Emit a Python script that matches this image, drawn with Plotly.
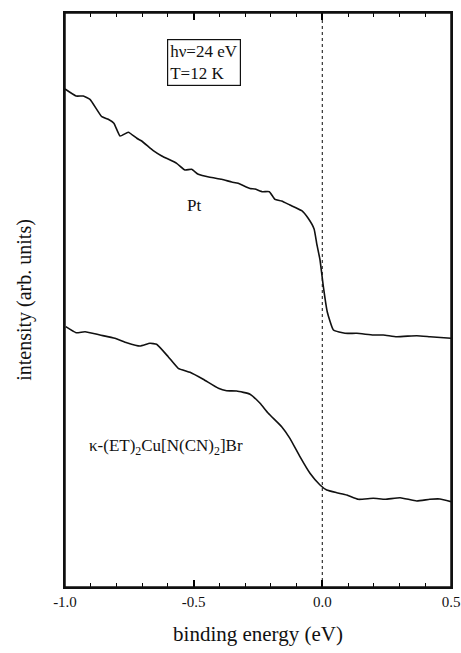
import plotly.graph_objects as go

# Pt spectrum (binding energy eV, intensity arb. units)
pt_energy = [-1.000, -0.957, -0.929, -0.903, -0.857, -0.832, -0.810, -0.786, -0.754, -0.721,
             -0.702, -0.657, -0.624, -0.566, -0.534, -0.508, -0.482, -0.437, -0.391, -0.352,
             -0.327, -0.281, -0.262, -0.232, -0.206, -0.184, -0.158, -0.126, -0.080, -0.055,
             -0.032, -0.022, -0.009, 0.004, 0.019, 0.043, 0.088, 0.134, 0.198, 0.237,
             0.289, 0.367, 0.418, 0.500]
pt_intensity = [498, 491, 491, 487.7, 470.3, 467.7, 463.7, 451, 454.7, 448.7,
                446, 436.3, 431, 423.7, 417, 417.7, 412.7, 409.7, 407.7, 405,
                403.7, 398.5, 398, 395.3, 395.3, 387.7, 386, 382, 376.3, 368.7,
                358, 343.7, 327, 300.3, 275.3, 257, 253.7, 253.7, 252, 252,
                250.3, 251.3, 250.3, 248.7]

# kappa-(ET)2Cu[N(CN)2]Br spectrum
k_energy = [-0.997, -0.957, -0.922, -0.864, -0.806, -0.760, -0.709, -0.670, -0.644, -0.599,
            -0.560, -0.514, -0.463, -0.404, -0.372, -0.333, -0.281, -0.242, -0.210, -0.158,
            -0.126, -0.087, -0.048, -0.009, 0.017, 0.056, 0.095, 0.140, 0.198, 0.244,
            0.302, 0.367, 0.418, 0.457, 0.500]
k_intensity = [260.3, 254.3, 255.3, 252, 248.7, 244.3, 241, 243.7, 242.7, 230.3,
               218.7, 214.7, 207.7, 198.7, 196.3, 196, 192.8, 183.7, 173.7, 160.3,
               148.7, 130.3, 113.7, 102, 97, 94.3, 92, 87.7, 88.7, 87.7,
               89.3, 86, 87.7, 88, 85.3]

tick_vals = [-1.0, -0.5, 0.0, 0.5]
tick_text = ["-1.0", "-0.5", "0.0", "0.5"]
minor_vals = [-0.9, -0.8, -0.7, -0.6, -0.4, -0.3, -0.2, -0.1, 0.1, 0.2, 0.3, 0.4]
fermi_level = [0.0, 0.0]
y_span = [0, 574]

FONT = "Liberation Serif, Times New Roman, serif"
INK = "#000000"

fig = go.Figure()
fig.add_trace(go.Scatter(x=fermi_level, y=y_span, mode="lines",
                         line=dict(color="#333333", width=1.2, dash="dot"),
                         hoverinfo="skip", showlegend=False))
fig.add_trace(go.Scatter(x=pt_energy, y=pt_intensity, mode="lines",
                         line=dict(color="#111111", width=1.6, shape="spline", smoothing=0.4),
                         showlegend=False))
fig.add_trace(go.Scatter(x=k_energy, y=k_intensity, mode="lines",
                         line=dict(color="#111111", width=1.6, shape="spline", smoothing=0.4),
                         showlegend=False))

fig.add_annotation(x=-0.46, y=524.5, xref="x", yref="y",
                   text="hν=24 eV<br>T=12 K", showarrow=False, align="left",
                   font=dict(family=FONT, size=17, color="#111111"),
                   bordercolor="#111111", borderwidth=1.2, borderpad=2, bgcolor="white")
fig.add_annotation(x=-0.499, y=382, xref="x", yref="y", text="Pt", showarrow=False,
                   font=dict(family=FONT, size=17, color="#111111"))
fig.add_annotation(x=-0.915, y=140, xref="x", yref="y", xanchor="left",
                   text="κ-(ET)<sub>2</sub>Cu[N(CN)<sub>2</sub>]Br", showarrow=False,
                   font=dict(family=FONT, size=17, color="#111111"))

# plot frame
fig.add_shape(type="rect", xref="paper", yref="paper", x0=0, x1=1, y0=0, y1=1,
              line=dict(color="#111111", width=1.5), layer="above")

fig.update_xaxes(range=[-1.0, 0.5], tickmode="array", tickvals=tick_vals, ticktext=tick_text,
                 ticks="inside", ticklen=7, tickwidth=1.5, tickcolor=INK,
                 minor=dict(tickmode="array", tickvals=minor_vals, ticks="inside",
                            ticklen=4, tickwidth=1.2, tickcolor=INK),
                 showline=True, linecolor="#111111", linewidth=1.5, mirror="ticks",
                 showgrid=False, zeroline=False, automargin=False,
                 tickfont=dict(family=FONT, size=15, color="#111111"),
                 title=dict(text="binding energy (eV)", standoff=18,
                            font=dict(family=FONT, size=21, color="#111111")))
fig.update_yaxes(range=y_span, showticklabels=False, ticks="",
                 showline=True, linecolor="#111111", linewidth=1.5, mirror=True,
                 showgrid=False, zeroline=False, automargin=False,
                 title=dict(text="intensity (arb. units)", standoff=26,
                            font=dict(family=FONT, size=20, color="#111111")))

fig.update_layout(width=461, height=653, margin=dict(l=65, r=10, t=13, b=66),
                  plot_bgcolor="white", paper_bgcolor="white")

fig.write_html("out.html", config={"displayModeBar": False},
               post_script="document.body.style.margin='0';document.body.style.overflow='hidden';")
